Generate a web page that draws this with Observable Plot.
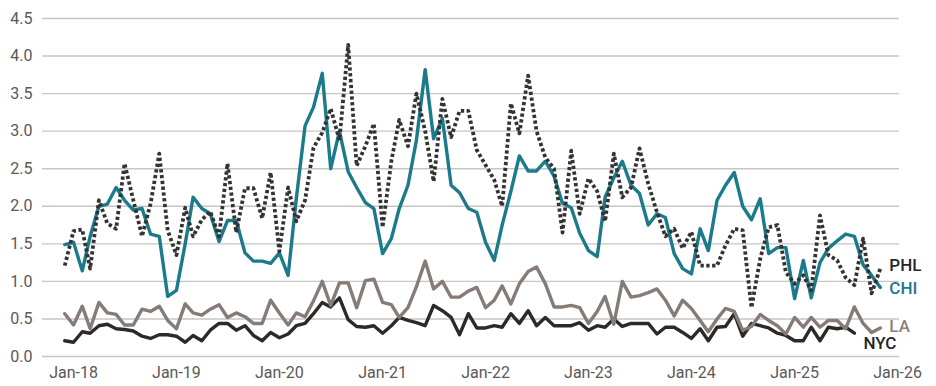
<!DOCTYPE html>
<html>
<head>
<meta charset="utf-8">
<script src="https://cdn.jsdelivr.net/npm/d3@7"></script>
<script src="https://cdn.jsdelivr.net/npm/@observablehq/plot@0.6"></script>
<style>
  html, body { margin: 0; padding: 0; background: #ffffff; }
  #chart { width: 936px; height: 386px; }
</style>
</head>
<body>
<div id="chart"></div>
<script>
// ---- data (monthly, first value = first month below) ----
const startMonth = "2017-12-01";
const cities = ["NYC", "LA", "CHI", "PHL"];

const phl = [1.21,1.67,1.69,1.17,2.08,1.77,1.70,2.57,2.08,1.60,2.03,2.70,
             1.68,1.35,1.98,1.60,1.82,1.93,1.60,2.57,1.65,2.24,2.24,1.84,
             2.45,1.40,2.25,1.80,2.08,2.78,2.98,3.30,2.88,4.15,2.54,2.80,
             3.10,1.72,2.60,3.15,2.80,3.50,3.00,2.33,3.43,2.92,3.27,3.27,
             2.75,2.55,2.35,2.00,3.37,2.97,3.74,3.00,2.65,2.50,1.65,2.74,
             1.90,2.37,2.20,1.80,2.70,2.12,2.25,2.77,2.30,1.92,1.60,1.70,
             1.44,1.66,1.21,1.21,1.21,1.48,1.70,1.68,0.65,1.30,1.72,1.75,
             1.12,0.97,1.08,0.88,1.88,1.35,1.28,1.05,0.95,1.57,0.84,1.17];

const chi = [1.49,1.52,1.14,1.60,2.00,2.03,2.25,2.08,1.95,1.97,1.63,1.60,
             0.80,0.88,1.50,2.12,1.97,1.90,1.53,1.81,1.81,1.38,1.27,1.27,
             1.24,1.38,1.08,2.10,3.07,3.32,3.77,2.50,3.00,2.46,2.25,2.05,
             1.97,1.37,1.57,1.97,2.28,2.88,3.82,2.90,3.17,2.28,2.18,1.97,
             1.92,1.52,1.28,1.75,2.20,2.67,2.47,2.47,2.60,2.40,2.04,1.98,
             1.64,1.41,1.33,2.12,2.38,2.60,2.28,2.17,1.75,1.90,1.85,1.37,
             1.17,1.10,1.70,1.41,2.08,2.28,2.45,2.00,1.82,2.10,1.37,1.45,
             1.45,0.77,1.28,0.78,1.25,1.44,1.54,1.63,1.60,1.22,1.08,0.92];

const la  = [0.57,0.42,0.67,0.37,0.72,0.58,0.56,0.42,0.42,0.63,0.60,0.67,
             0.48,0.37,0.70,0.58,0.55,0.63,0.69,0.52,0.58,0.53,0.44,0.44,
             0.75,0.58,0.42,0.58,0.53,0.74,1.00,0.68,0.98,0.98,0.65,1.01,
             1.03,0.72,0.69,0.52,0.65,0.93,1.27,0.90,1.00,0.79,0.79,0.87,
             0.92,0.65,0.75,0.94,0.70,0.97,1.13,1.19,0.97,0.66,0.66,0.68,
             0.65,0.44,0.60,0.80,0.43,1.00,0.79,0.81,0.85,0.90,0.75,0.54,
             0.75,0.64,0.48,0.33,0.50,0.64,0.60,0.35,0.40,0.56,0.48,0.41,
             0.30,0.52,0.39,0.52,0.39,0.48,0.48,0.37,0.66,0.44,0.32,0.38];

const nyc = [0.21,0.19,0.33,0.31,0.41,0.43,0.37,0.36,0.34,0.27,0.24,0.29,
             0.29,0.27,0.19,0.28,0.21,0.35,0.44,0.44,0.35,0.41,0.28,0.21,
             0.32,0.25,0.30,0.41,0.44,0.57,0.72,0.66,0.78,0.49,0.40,0.39,
             0.41,0.31,0.41,0.52,0.48,0.45,0.41,0.68,0.61,0.52,0.29,0.57,
             0.38,0.38,0.41,0.39,0.57,0.44,0.61,0.41,0.52,0.41,0.41,0.41,
             0.45,0.35,0.41,0.39,0.50,0.40,0.44,0.44,0.44,0.30,0.39,0.39,
             0.32,0.24,0.37,0.21,0.39,0.40,0.57,0.27,0.44,0.41,0.38,0.31,
             0.28,0.21,0.21,0.39,0.21,0.39,0.37,0.39,0.31];

const yTicks = [0, 0.5, 1, 1.5, 2, 2.5, 3, 3.5, 4, 4.5];
const tickYears = [2018, 2019, 2020, 2021, 2022, 2023, 2024, 2025, 2026];
const xTickLabels = ["Jan-18","Jan-19","Jan-20","Jan-21","Jan-22","Jan-23","Jan-24","Jan-25","Jan-26"];

// ---- build table ----
const valuesByCity = {NYC: nyc, LA: la, CHI: chi, PHL: phl};
const start = new Date(startMonth + "T00:00:00Z");
const rows = cities.flatMap(city =>
  valuesByCity[city].map((v, i) => ({city, date: d3.utcMonth.offset(start, i), value: v}))
);
const lastRows = cities.map(city => rows.filter(r => r.city === city).at(-1));

const style = {
  NYC: {stroke: "#2a2a2a", width: 3.4, dash: null, text: "#262626", dy: 10},
  LA:  {stroke: "#857b77", width: 3.4, dash: null, text: "#8a807c", dy: -1},
  CHI: {stroke: "#1b7b8b", width: 3.4, dash: null, text: "#1b7b8b", dy: 1},
  PHL: {stroke: "#333333", width: 3.8, dash: "3.3,2.5", text: "#262626", dy: -3}
};

const xTicks = tickYears.map(y => new Date(Date.UTC(y, 0, 1)));

const chart = Plot.plot({
  width: 936,
  height: 386,
  marginLeft: 42,
  marginRight: 37,
  marginTop: 18,
  marginBottom: 30,
  style: {fontFamily: "Roboto, 'Noto Sans', sans-serif", fontSize: "16px", color: "#595959", background: "#ffffff"},
  x: {type: "utc", domain: [new Date("2017-09-13T00:00:00Z"), new Date("2026-01-08T00:00:00Z")]},
  y: {domain: [0, 4.5]},
  marks: [
    Plot.gridY(yTicks, {stroke: "#c6c6c6", strokeOpacity: 1, strokeWidth: 1.4}),
    Plot.axisY(yTicks, {tickSize: 0, tickPadding: 10, tickFormat: d3.format(".1f"), label: null, fontSize: 16}),
    Plot.axisX(xTicks, {tickSize: 0, tickPadding: 10, label: null, fontSize: 16,
      tickFormat: d => xTickLabels[tickYears.indexOf(d.getUTCFullYear())]}),
    ...cities.map(city => Plot.line(rows.filter(r => r.city === city), {
      x: "date", y: "value",
      stroke: style[city].stroke,
      strokeWidth: style[city].width,
      strokeDasharray: style[city].dash,
      strokeLinejoin: "round",
      strokeLinecap: style[city].dash ? "butt" : "round"
    })),
    ...lastRows.map(r => Plot.text([r], {
      x: "date", y: "value", text: "city",
      dx: 9, dy: style[r.city].dy,
      textAnchor: "start",
      fill: style[r.city].text,
      fontSize: 17,
      fontWeight: 500
    }))
  ]
});

document.getElementById("chart").appendChild(chart);
</script>
</body>
</html>
